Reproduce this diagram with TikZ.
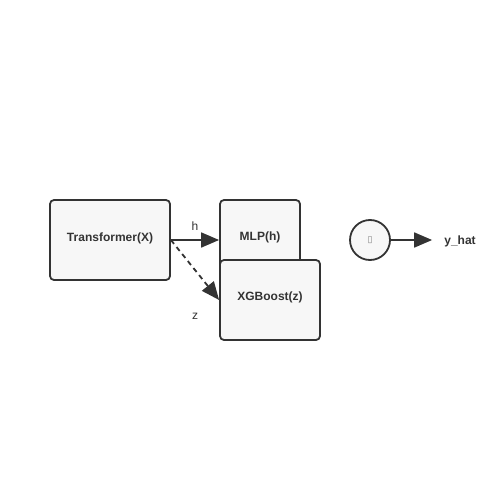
\documentclass[tikz,border=0pt]{standalone}
\usepackage{fontspec}
\setmainfont{Liberation Sans}
\newfontfamily\symfont{DejaVu Sans}
\usetikzlibrary{arrows.meta}
\definecolor{ink}{HTML}{333333}
\definecolor{boxfill}{HTML}{F7F7F7}
\begin{document}
\begin{tikzpicture}[x=1pt,y=-1pt,
  box/.style={draw=ink,fill=boxfill,line width=1.8pt,rounded corners=4pt,inner sep=0pt,
    font=\fontsize{12}{14}\selectfont\bfseries,text=ink},
  conn/.style={draw=ink,line width=1.8pt,-{Triangle[length=18pt,width=15pt]}},
  lbl/.style={font=\fontsize{12}{14}\selectfont,text=ink,inner sep=0pt}]
\useasboundingbox (0,0) rectangle (500,500);
\node[box,minimum width=120pt,minimum height=80pt] (tr) at (110,240) {\raisebox{5pt}{Transformer(X)}};
\node[box,minimum width=80pt,minimum height=80pt] (mlp) at (260,240) {\raisebox{8pt}{MLP(h)}};
\node[box,minimum width=100pt,minimum height=80pt] (xgb) at (270,300) {\raisebox{8pt}{XGBoost(z)}};
\node[draw=ink,fill=boxfill,line width=1.8pt,circle,minimum size=40pt,inner sep=0pt,
  font=\symfont\fontsize{9}{10}\selectfont,text=gray] (sum) at (370,240) {▯};
\node[lbl,font=\fontsize{12}{14}\selectfont\bfseries,inner xsep=12pt] (yhat) at (460,241) {y\_hat};
\draw[conn] (tr.east) -- (mlp.west);
\draw[conn,dashed,dash pattern=on 5pt off 4pt] (tr.east) -- (xgb.west);
\draw[conn] (sum.east) -- (yhat.west |- sum.east);
\node[lbl] (hl) at (195,226) {h};
\node[lbl] (zl) at (195,316) {z};
\end{tikzpicture}
\end{document}
